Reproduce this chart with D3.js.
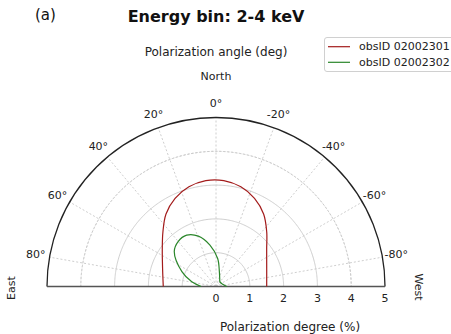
<!DOCTYPE html>
<html>
<head>
<meta charset="utf-8">
<script src="https://cdn.jsdelivr.net/npm/d3@7"></script>
<style>
  html, body { margin: 0; padding: 0; background: #fff; }
  svg { display: block; font-family: "DejaVu Sans", sans-serif; }
</style>
</head>
<body>
<svg id="chart" width="451" height="334"></svg>
<script>
// ---- data (angles in degrees, positive = towards East/left; radius in % PD)
const seriesNames = ["obsID 02002301", "obsID 02002302"];
const redAngles = [90, 72.4, 55.3, 44.1, 34.6, 24.9, 15.2, 5.5, -4.2, -14.0, -23.6, -33.3, -42.8, -53.7, -71.6, -90];
const redRadii  = [1.56, 1.657, 1.933, 2.256, 2.605, 2.875, 3.056, 3.147, 3.141, 3.039, 2.846, 2.566, 2.208, 1.86, 1.581, 1.50];
const greenAngles = [90, 79, 66.5, 50.1, 40.1, 29.7, 19.3, 8.3, -3.4, -12.8, -25, -40.6, -72, -90];
const greenRadii  = [0.44, 0.73, 1.10, 1.61, 1.74, 1.75, 1.58, 1.24, 0.83, 0.45, 0.26, 0.18, 0.21, 0.32];
const radialTicks = [0, 1, 2, 3, 4, 5];
const angleTicks = [80, 60, 40, 20, 0, -20, -40, -60, -80];
const gridCircles = [1, 2, 3, 4];

const svg = d3.select("#chart");
const cx = 216, cy = 286.5, R = 169;
const r = d3.scaleLinear().domain([0, 5]).range([0, R]);
const toRad = d => -d * Math.PI / 180; // d3 radial: 0 at top, clockwise positive
const g = svg.append("g").attr("transform", `translate(${cx},${cy})`);

// grid circles
const arc = d3.arc().startAngle(-Math.PI / 2).endAngle(Math.PI / 2);
g.selectAll(".gc").data(gridCircles).enter().append("path")
  .attr("d", d => arc({innerRadius: r(d), outerRadius: r(d)}))
  .attr("fill", "none").attr("stroke", "#c8c8c8").attr("stroke-width", 0.9)
  .attr("stroke-dasharray", "2,2");

// spokes
g.selectAll(".sp").data(angleTicks).enter().append("line")
  .attr("x1", 0).attr("y1", 0)
  .attr("x2", d => r(5) * Math.sin(toRad(d)))
  .attr("y2", d => -r(5) * Math.cos(toRad(d)))
  .attr("stroke", "#c8c8c8").attr("stroke-width", 0.9).attr("stroke-dasharray", "2,2");

// outer arc
g.append("path").attr("d", arc({innerRadius: r(5), outerRadius: r(5)}))
  .attr("fill", "none").attr("stroke", "#222").attr("stroke-width", 1.3);
// baseline
g.append("line").attr("x1", -r(5)).attr("x2", r(5)).attr("y1", 0).attr("y2", 0)
  .attr("stroke", "#555").attr("stroke-width", 1.6);

// contours
const line = d3.lineRadial().angle(d => toRad(d[0])).radius(d => r(d[1])).curve(d3.curveCatmullRom.alpha(0.5));
const redPts = redAngles.map((a, i) => [a, redRadii[i]]);
const greenPts = greenAngles.map((a, i) => [a, greenRadii[i]]);
g.append("path").attr("d", line(redPts)).attr("fill", "none").attr("stroke", "#a31b1b").attr("stroke-width", 1.2);
g.append("path").attr("d", line(greenPts)).attr("fill", "none").attr("stroke", "#2a862a").attr("stroke-width", 1.2);

// angle labels
const labR = 183;
g.selectAll(".al").data(angleTicks).enter().append("text")
  .attr("x", d => labR * Math.sin(toRad(d)))
  .attr("y", d => -labR * Math.cos(toRad(d)))
  .attr("text-anchor", "middle").attr("dominant-baseline", "central")
  .attr("font-size", 11).attr("fill", "#222")
  .text(d => `${d}°`);

// radial tick labels
g.selectAll(".rl").data(radialTicks).enter().append("text")
  .attr("x", d => r(d)).attr("y", 15)
  .attr("text-anchor", "middle").attr("font-size", 11).attr("fill", "#222")
  .text(d => d);

// texts
svg.append("text").attr("x", 35).attr("y", 20).attr("font-size", 15).attr("fill", "#111").text("(a)");
svg.append("text").attr("x", 216).attr("y", 22).attr("text-anchor", "middle").attr("font-size", 16)
  .attr("font-weight", "bold").attr("fill", "#111").text("Energy bin: 2-4 keV");
svg.append("text").attr("x", 216).attr("y", 56).attr("text-anchor", "middle").attr("font-size", 12)
  .attr("fill", "#222").text("Polarization angle (deg)");
svg.append("text").attr("x", 216).attr("y", 80).attr("text-anchor", "middle").attr("font-size", 11)
  .attr("fill", "#222").text("North");
svg.append("text").attr("x", 290).attr("y", 331).attr("text-anchor", "middle").attr("font-size", 12)
  .attr("fill", "#222").text("Polarization degree (%)");
svg.append("text").attr("transform", "translate(11,288) rotate(-90)").attr("text-anchor", "middle")
  .attr("dominant-baseline", "central").attr("font-size", 11).attr("fill", "#222").text("East");
svg.append("text").attr("transform", "translate(418,287) rotate(90)").attr("text-anchor", "middle")
  .attr("dominant-baseline", "central").attr("font-size", 11).attr("fill", "#222").text("West");

// legend
const lg = svg.append("g");
lg.append("rect").attr("x", 324.5).attr("y", 37.5).attr("width", 130).attr("height", 34).attr("rx", 2.5)
  .attr("fill", "#fff").attr("stroke", "#d0d0d0").attr("stroke-width", 1);
const colors = ["#a31b1b", "#2a862a"];
seriesNames.forEach((n, i) => {
  const y = 46.7 + i * 15.6;
  lg.append("line").attr("x1", 328).attr("x2", 350).attr("y1", y).attr("y2", y)
    .attr("stroke", colors[i]).attr("stroke-width", 1.2);
  lg.append("text").attr("x", 359).attr("y", y).attr("dominant-baseline", "central")
    .attr("font-size", 11).attr("fill", "#222").text(n);
});
</script>
</body>
</html>
